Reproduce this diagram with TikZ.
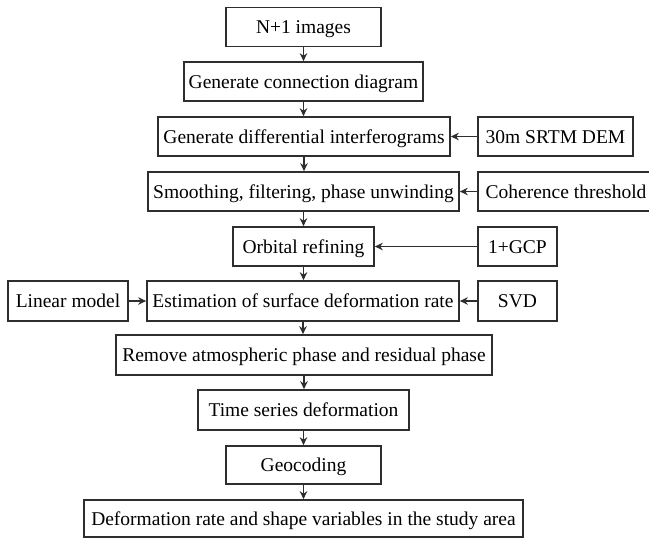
\documentclass[tikz,border=0pt]{standalone}
\usepackage{fontspec}
\setmainfont{Liberation Serif}
\usetikzlibrary{arrows.meta}
\definecolor{ln}{HTML}{2E2E2E}
\begin{document}
\begin{tikzpicture}[x=1pt,y=-1pt,
  box/.style={draw=ln,line width=1.7pt,inner sep=0pt,minimum height=39pt,text height=13.5pt,text depth=0pt,font=\fontsize{19.5}{22}\selectfont,text=black},
  arr/.style={draw=ln,line width=1.5pt,-{Stealth[length=8pt,width=7.5pt]}}]
\useasboundingbox (0,0) rectangle (649,539);
\node[box,minimum width=155pt] (n1) at (303.5,27) {N+1 images};
\node[box,minimum width=239pt] (gc) at (303.5,81.5) {Generate connection diagram};
\node[box,minimum width=292pt] (gd) at (304,136.5) {Generate differential interferograms};
\node[box,minimum width=155pt] (dem) at (555.5,136.5) {30m SRTM DEM};
\node[box,minimum width=311pt] (sm) at (303.5,191.5) {Smoothing, filtering, phase unwinding};
\node[box,minimum width=176pt] (coh) at (566,191.5) {Coherence threshold};
\node[box,minimum width=141pt] (orb) at (303.5,246.5) {Orbital refining};
\node[box,minimum width=79pt] (gcp) at (517.5,246.5) {1+GCP};
\node[box,minimum width=312pt,minimum height=40pt] (est) at (303,301) {Estimation of surface deformation rate};
\node[box,minimum width=79pt,minimum height=40pt] (svd) at (517.5,301) {SVD};
\node[box,minimum width=120pt,minimum height=40pt] (lin) at (68,301) {Linear model};
\node[box,minimum width=376pt,minimum height=40pt] (rem) at (304,355) {Remove atmospheric phase and residual phase};
\node[box,minimum width=211pt,minimum height=40pt] (ts) at (303.5,410) {Time series deformation};
\node[box,minimum width=155pt,minimum height=38pt] (geo) at (303.5,465) {Geocoding};
\node[box,minimum width=439pt,minimum height=37pt] (def) at (303.5,518.5) {Deformation rate and shape variables in the study area};
\foreach \a/\b in {n1/gc,gc/gd,gd/sm,sm/orb,orb/est,est/rem,rem/ts,ts/geo,geo/def}
  \draw[arr] (\a.south) -- (\a.south |- \b.north);
\draw[arr] (dem.west) -- (gd.east);
\draw[arr] (coh.west) -- (sm.east);
\draw[arr] (gcp.west) -- (orb.east);
\draw[arr] (svd.west) -- (est.east);
\draw[arr] (lin.east) -- (est.west);
\end{tikzpicture}
\end{document}
